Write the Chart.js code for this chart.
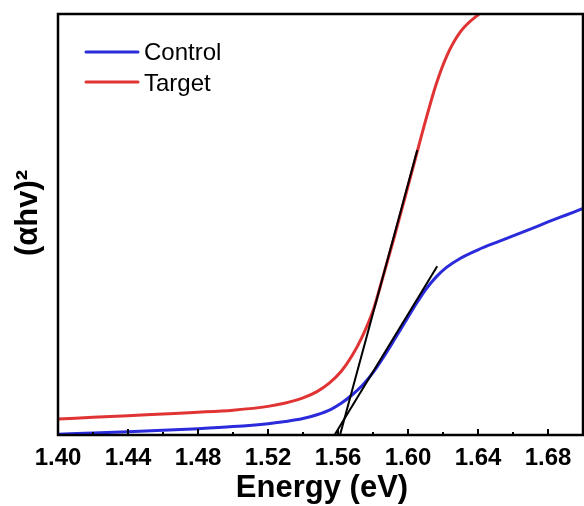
<!DOCTYPE html>
<html>
<head>
<meta charset="utf-8">
<script src="https://cdn.jsdelivr.net/npm/chart.js@4/dist/chart.umd.min.js"></script>
<style>
html,body{margin:0;padding:0;background:#fff;}
#wrap{width:584px;height:506px;}
</style>
</head>
<body>
<div id="wrap"><canvas id="c" width="584" height="506"></canvas></div>
<script>
// ---- data ----
const controlEnergy = [1.40,1.42,1.44,1.46,1.48,1.50,1.52,1.53,1.54,1.548,1.556,1.562,1.568,1.574,1.580,1.586,1.592,1.598,1.604,1.610,1.616,1.622,1.630,1.640,1.652,1.660,1.671,1.680,1.690,1.700];
const controlValue  = [0.2,0.45,0.75,1.1,1.5,2.0,2.7,3.2,3.9,4.8,6.1,7.6,9.5,11.8,14.8,18.5,22.5,26.6,30.7,34.5,37.5,39.8,42.0,44.0,46.0,47.3,49.1,50.6,52.2,53.8];

const targetEnergy = [1.40,1.42,1.44,1.46,1.48,1.50,1.52,1.53,1.54,1.548,1.555,1.562,1.568,1.574,1.580,1.586,1.592,1.598,1.604,1.610,1.616,1.622,1.630,1.640,1.650,1.660];
const targetValue  = [3.8,4.2,4.6,5.0,5.4,5.9,6.8,7.6,8.8,10.3,12.3,15.2,18.8,23.5,29.5,38.0,46.8,56.0,65.3,74.6,83.2,89.9,95.8,99.8,102.5,104.5];

// tangent (Tauc) lines: end points
const tangentTargetEnergy = [1.5605,1.6053];
const tangentTargetValue  = [-1.0,67.7];
const tangentControlEnergy = [1.5570,1.6167];
const tangentControlValue  = [-0.7,40.1];

const xTickValues = [1.40,1.44,1.48,1.52,1.56,1.60,1.64,1.68];
const xMinorValues = [1.42,1.46,1.50,1.54,1.58,1.62,1.66];
const legendLabels = ['Control','Target'];
const xTitle = 'Energy (eV)';
const yTitle = '(\u03b1hv)\u00b2';

const BLUE = '#2b2bdc';
const RED = '#e03333';

function pts(xs, ys){ return xs.map((x,i)=>({x:x,y:ys[i]})); }

const decor = {
  id:'decor',
  afterDraw(chart){
    const ctx = chart.ctx, a = chart.chartArea, xs = chart.scales.x;
    ctx.save();
    ctx.strokeStyle = '#000';
    ctx.lineWidth = 2.5;
    ctx.strokeRect(a.left, a.top, a.right - a.left, a.bottom - a.top);
    ctx.lineWidth = 2;
    ctx.beginPath();
    xTickValues.forEach(v=>{
      const px = Math.round(xs.getPixelForValue(v));
      ctx.moveTo(px, a.bottom); ctx.lineTo(px, a.bottom - 6);
    });
    xMinorValues.forEach(v=>{
      const px = Math.round(xs.getPixelForValue(v));
      ctx.moveTo(px, a.bottom); ctx.lineTo(px, a.bottom - 3);
    });
    ctx.stroke();
    ctx.fillStyle = '#000';
    ctx.font = 'bold 31px "Liberation Sans", Arial, sans-serif';
    ctx.textAlign = 'center';
    ctx.textBaseline = 'alphabetic';
    ctx.fillText(xTitle, 322, 497);
    ctx.save();
    ctx.translate(37, 213);
    ctx.rotate(-Math.PI/2);
    ctx.fillText(yTitle, 0, 0);
    ctx.restore();
    const colors = [BLUE, RED];
    const ys = [52, 82];
    const baselines = [60, 91];
    ctx.font = '24px "Liberation Sans", Arial, sans-serif';
    ctx.textAlign = 'left';
    legendLabels.forEach((lab,i)=>{
      ctx.strokeStyle = colors[i];
      ctx.lineWidth = 3;
      ctx.lineCap = 'round';
      ctx.beginPath(); ctx.moveTo(86, ys[i]); ctx.lineTo(138, ys[i]); ctx.stroke();
      ctx.fillStyle = '#000';
      ctx.fillText(lab, 144, baselines[i]);
    });
    ctx.restore();
  }
};

new Chart(document.getElementById('c'), {
  type:'line',
  data:{
    datasets:[
      {label:'tangentTarget', data:pts(tangentTargetEnergy, tangentTargetValue), borderColor:'#000', borderWidth:2, pointRadius:0, tension:0},
      {label:'tangentControl', data:pts(tangentControlEnergy, tangentControlValue), borderColor:'#000', borderWidth:2, pointRadius:0, tension:0},
      {label:legendLabels[0], data:pts(controlEnergy, controlValue), borderColor:BLUE, borderWidth:3, pointRadius:0, cubicInterpolationMode:'monotone'},
      {label:legendLabels[1], data:pts(targetEnergy, targetValue), borderColor:RED, borderWidth:3, pointRadius:0, cubicInterpolationMode:'monotone'}
    ]
  },
  options:{
    responsive:false,
    animation:false,
    events:[],
    layout:{padding:{top:14, right:1, left:0, bottom:0}},
    plugins:{legend:{display:false}, tooltip:{enabled:false}},
    scales:{
      x:{
        type:'linear', min:1.40, max:1.70,
        afterBuildTicks(scale){ scale.ticks = xTickValues.map(v=>({value:v})); },
        afterFit(scale){ scale.height = 71; },
        grid:{display:false, drawTicks:false},
        border:{display:false},
        ticks:{
          padding:9, color:'#000', maxRotation:0, autoSkip:false,
          font:{family:'"Liberation Sans", Arial, sans-serif', size:24, weight:'bold'},
          callback:(v)=>Number(v).toFixed(2)
        }
      },
      y:{
        type:'linear', min:0, max:100,
        afterFit(scale){ scale.width = 58; },
        grid:{display:false, drawTicks:false},
        border:{display:false},
        ticks:{display:false}
      }
    }
  },
  plugins:[decor]
});
</script>
</body>
</html>
